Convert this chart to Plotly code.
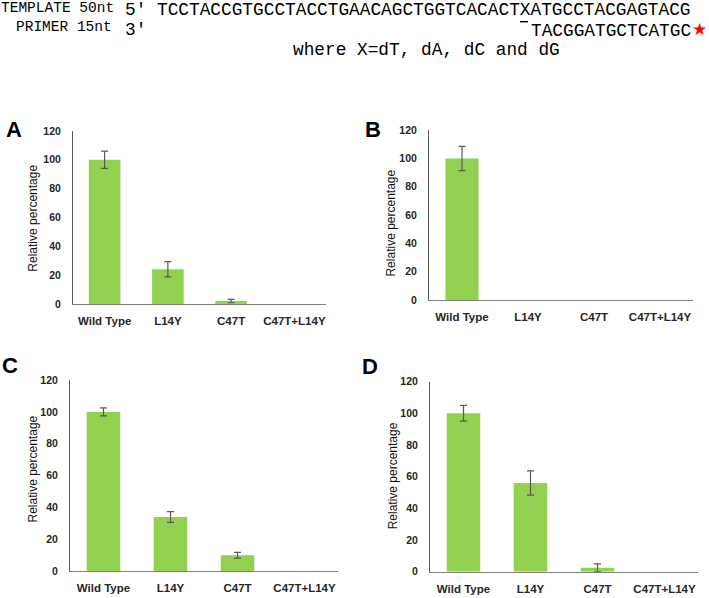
import plotly.graph_objects as go

# ---------------- data ----------------
categories = ["Wild Type", "L14Y", "C47T", "C47T+L14Y"]

a_values = [100, 24, 2, 0]
a_errors = [6, 5.3, 1.2, None]

b_values = [100, 0, 0, 0]
b_errors = [8.6, None, None, None]

c_values = [100, 34, 10, 0]
c_errors = [2.5, 3.4, 1.8, None]

d_values = [100, 56, 2.5, 0]
d_errors = [5, 7.7, 2.5, None]

y_ticks = [0, 20, 40, 60, 80, 100, 120]

template_seq = "TCCTACCGTGCCTACCTGAACAGCTGGTCACACTXATGCCTACGAGTACG"
primer_seq = "TACGGATGCTCATGC"
note_text = "where X=dT, dA, dC and dG"

# ---------------- layout helpers ----------------
W, H = 709, 598
def px(x):
    return x / W
def py(y):
    return 1 - y / H

GREEN = "#92D050"
ERR = "#595959"

panels = [
    # letter, values, errors, x-left, x-right, y-bottom(0), y-top(120), letter pos, title pos
    ("A", a_values, a_errors, 73, 326, 304, 127.5, (14, 126), (33, 217)),
    ("B", b_values, b_errors, 429, 693, 300, 126.7, (373, 126), (391, 222)),
    ("C", c_values, c_errors, 70, 338, 576.7, 381.7, (10, 367), (33, 473)),
    ("D", d_values, d_errors, 430, 698, 577.3, 383.3, (370, 368), (393, 480)),
]

fig = go.Figure()
annotations = []
layout_axes = {}

for i, (letter, vals, errs, xl, xr, yb, yt, lpos, tpos) in enumerate(panels):
    n = "" if i == 0 else str(i + 1)
    fig.add_trace(go.Bar(
        x=categories, y=vals,
        width=0.5,
        marker=dict(color=GREEN, line=dict(width=0)),
        xaxis="x" + n, yaxis="y" + n,
        showlegend=False, hoverinfo="x+y",
    ))
    ex = [c for c, e in zip(categories, errs) if e is not None]
    ey = [v for v, e in zip(vals, errs) if e is not None]
    ee = [e for e in errs if e is not None]
    fig.add_trace(go.Scatter(
        x=ex, y=ey, mode="markers",
        marker=dict(size=1, opacity=0),
        error_y=dict(type="data", array=ee, visible=True,
                     color=ERR, thickness=1.2, width=3.5),
        xaxis="x" + n, yaxis="y" + n,
        showlegend=False, hoverinfo="skip",
    ))
    layout_axes["xaxis" + n] = dict(
        domain=[px(xl), px(xr)], anchor="y" + n,
        range=[-0.5, 3.5], type="category", categoryarray=categories,
        showline=True, linecolor="#7f7f7f", linewidth=1,
        showgrid=False, zeroline=False, ticks="",
        ticklabelstandoff=6,
        tickfont=dict(family="Liberation Sans", size=11.5, color="#262626", weight="bold"),
    )
    layout_axes["yaxis" + n] = dict(
        domain=[py(yb), py(yt)], anchor="x" + n,
        range=[0, 120], tickvals=y_ticks,
        showline=True, linecolor="#595959", linewidth=1,
        showgrid=False, zeroline=False, ticks="",
        ticklabelstandoff=9,
        tickfont=dict(family="Liberation Sans", size=10.5, color="#262626", weight="bold"),
    )
    annotations.append(dict(
        text=letter, x=px(lpos[0]), y=py(lpos[1]), xref="paper", yref="paper",
        xanchor="center", yanchor="middle", showarrow=False,
        font=dict(family="Liberation Sans", size=22, color="#000000", weight="bold"),
    ))
    annotations.append(dict(
        text="Relative percentage", x=px(tpos[0]), y=py(tpos[1]),
        xref="paper", yref="paper", textangle=-90,
        xanchor="center", yanchor="middle", showarrow=False,
        font=dict(family="Liberation Sans", size=12, color="#111111"),
    ))

MONO = "Liberation Mono"
top_texts = [
    ("TEMPLATE 50nt", -1, 2, 14.5),
    ("5′", 123, 4, 17.8),
    (template_seq, 155, 4, 17.8),
    ("PRIMER 15nt", 14, 21, 14.5),
    ("3′", 123, 24, 17.8),
    (primer_seq, 529, 26, 17.8),
    (note_text, 291, 45, 17.8),
]
for txt, x, y, s in top_texts:
    annotations.append(dict(
        text=txt, x=px(x), y=py(y), xref="paper", yref="paper",
        xanchor="left", yanchor="middle", showarrow=False,
        font=dict(family=MONO, size=s, color="#000000"),
    ))
annotations.append(dict(
    text="★", x=px(699.5), y=py(23), xref="paper", yref="paper",
    xanchor="center", yanchor="middle", showarrow=False,
    font=dict(family="DejaVu Sans", size=17, color="#ff0000"),
))

shapes = [
    dict(type="line", xref="paper", yref="paper",
         x0=px(520), x1=px(528), y0=py(16), y1=py(16),
         line=dict(color="#000000", width=1.5)),
]

fig.update_layout(
    width=W, height=H,
    margin=dict(l=0, r=0, t=0, b=0),
    paper_bgcolor="white", plot_bgcolor="white",
    annotations=annotations, shapes=shapes,
    **layout_axes,
)

fig.write_html(
    "out.html",
    config={"displayModeBar": False},
    post_script="document.body.style.margin='0';document.body.style.overflow='hidden';",
)
